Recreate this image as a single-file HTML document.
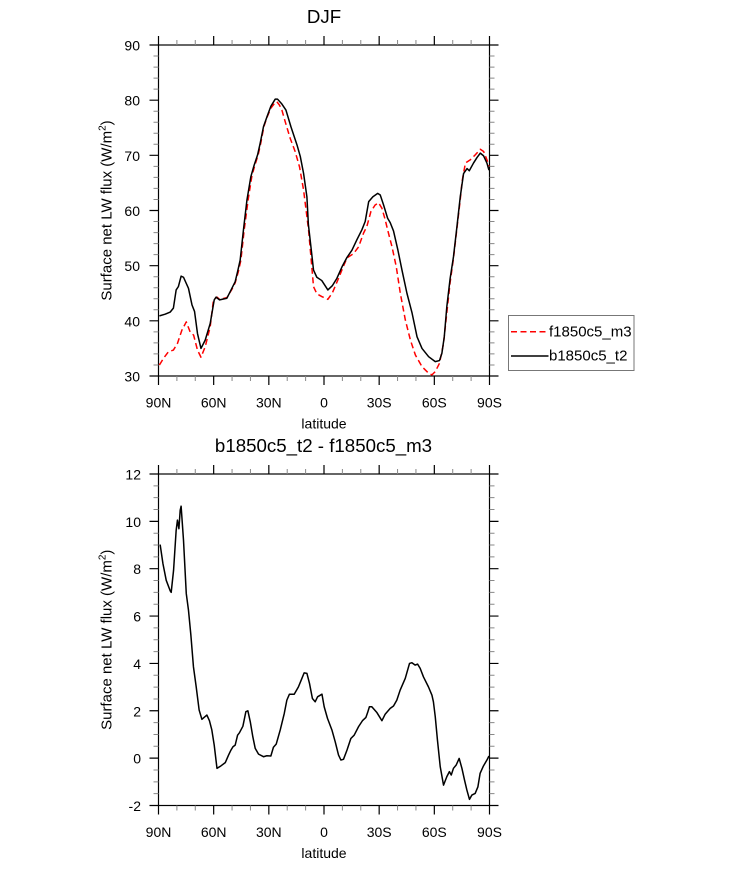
<!DOCTYPE html>
<html><head><meta charset="utf-8"><style>
html,body{margin:0;padding:0;background:#fff;}
svg{display:block;font-family:"Liberation Sans",Arial,sans-serif;}
</style></head><body>
<svg width="733" height="869" viewBox="0 0 733 869" xmlns="http://www.w3.org/2000/svg">
<rect width="733" height="869" fill="#fff"/>

<!-- ================= TOP PLOT ================= -->
<text x="324" y="23" font-size="18.7" text-anchor="middle">DJF</text>
<rect x="158.5" y="45" width="331" height="331" fill="none" stroke="#000" stroke-width="1.2"/>
<!-- major ticks -->
<path fill="none" stroke="#000" stroke-width="1.2" d="
M158.5 45v-9M213.67 45v-9M268.83 45v-9M324 45v-9M379.17 45v-9M434.33 45v-9M489.5 45v-9
M158.5 376v9M213.67 376v9M268.83 376v9M324 376v9M379.17 376v9M434.33 376v9M489.5 376v9
M158.5 376h-9M158.5 320.83h-9M158.5 265.67h-9M158.5 210.5h-9M158.5 155.33h-9M158.5 100.17h-9M158.5 45h-9
M489.5 376h9M489.5 320.83h9M489.5 265.67h9M489.5 210.5h9M489.5 155.33h9M489.5 100.17h9M489.5 45h9"/>
<!-- minor ticks -->
<path fill="none" stroke="#888" stroke-width="1" d="
M176.89 45v-5M195.28 45v-5M232.06 45v-5M250.44 45v-5M287.22 45v-5M305.61 45v-5M342.39 45v-5M360.78 45v-5M397.56 45v-5M415.94 45v-5M452.72 45v-5M471.11 45v-5
M176.89 376v5M195.28 376v5M232.06 376v5M250.44 376v5M287.22 376v5M305.61 376v5M342.39 376v5M360.78 376v5M397.56 376v5M415.94 376v5M452.72 376v5M471.11 376v5
M158.5 364.97h-5M158.5 353.93h-5M158.5 342.9h-5M158.5 331.87h-5M158.5 309.8h-5M158.5 298.77h-5M158.5 287.73h-5M158.5 276.7h-5M158.5 254.63h-5M158.5 243.6h-5M158.5 232.57h-5M158.5 221.53h-5M158.5 199.47h-5M158.5 188.43h-5M158.5 177.4h-5M158.5 166.37h-5M158.5 144.3h-5M158.5 133.27h-5M158.5 122.23h-5M158.5 111.2h-5M158.5 89.13h-5M158.5 78.1h-5M158.5 67.07h-5M158.5 56.03h-5
M489.5 364.97h5M489.5 353.93h5M489.5 342.9h5M489.5 331.87h5M489.5 309.8h5M489.5 298.77h5M489.5 287.73h5M489.5 276.7h5M489.5 254.63h5M489.5 243.6h5M489.5 232.57h5M489.5 221.53h5M489.5 199.47h5M489.5 188.43h5M489.5 177.4h5M489.5 166.37h5M489.5 144.3h5M489.5 133.27h5M489.5 122.23h5M489.5 111.2h5M489.5 89.13h5M489.5 78.1h5M489.5 67.07h5M489.5 56.03h5"/>
<!-- y labels -->
<g font-size="14" text-anchor="end">
<text x="140" y="381.5">30</text>
<text x="140" y="326.3">40</text>
<text x="140" y="271.2">50</text>
<text x="140" y="216">60</text>
<text x="140" y="160.8">70</text>
<text x="140" y="105.7">80</text>
<text x="140" y="50.5">90</text>
</g>
<!-- x labels -->
<g font-size="14" text-anchor="middle">
<text x="158.5" y="407.5">90N</text>
<text x="213.67" y="407.5">60N</text>
<text x="268.83" y="407.5">30N</text>
<text x="324" y="407.5">0</text>
<text x="379.17" y="407.5">30S</text>
<text x="434.33" y="407.5">60S</text>
<text x="489.5" y="407.5">90S</text>
</g>
<text x="324" y="428.5" font-size="14" text-anchor="middle">latitude</text>
<text transform="translate(111.5 210.5) rotate(-90)" font-size="15" text-anchor="middle">Surface net LW flux (W/m<tspan font-size="10" dy="-6">2</tspan><tspan dy="6">)</tspan></text>

<!-- curves top -->
<g transform="matrix(1.83889 0 0 -5.51667 158.5 541.5)">
<polyline fill="none" stroke="#ff0000" stroke-width="1.5" vector-effect="non-scaling-stroke" stroke-dasharray="6 3.5" stroke-linejoin="round" points="
0.5,32.0 2.7,33.2 5.4,34.4 8.1,34.7 10.3,35.9 12.7,38.3 15.1,39.8 17.2,38.0 19.1,37.4 21.2,34.7 23.1,33.4 25.4,35.3 28.1,38.9 29.9,43.8 31.8,44.3 33.2,43.9 37.2,44.2 39.9,45.7 41.7,46.9 43.4,48.9 44.8,51.0 46.6,56.5 48.9,62.3 50.8,66.3 52.4,68.2 54.2,70.1 55.6,72.2 57.3,75.2 59,76.9 61.2,78.6 63.5,79.6 64.4,79.7 65.8,79.1 67.1,78.2 68.9,76.1 71.6,73.1 74.3,70.7 76.7,67.9 78.9,63.7 80.7,58.9 81.6,56.5 82.9,51.6 84.3,46.2 86.1,44.9 88.8,44.4 92.1,43.9 94.6,45.1 97.9,47.7 100.7,50.0 102.5,51.4 106.1,52.2 108.8,53.4 111.5,55.9 113.3,57.1 115.5,59.8 117.8,61.0 119.7,61.4 121.5,60.4 123.3,58.3 124.6,56.5 127,53.4 129.3,49.8 131.5,45.0 134.2,40.2 137,36.5 139.7,33.8 143.3,31.7 146.9,30.5 148.7,30.2 150.5,30.8 152.8,32.3 155,35.9 156.8,41.5 158.6,47.0 160.4,51.3 162.3,56.8 164.1,62.0 165.1,65.3 166.9,68.6 169.6,69.2 172.3,70.1 175,71.1 176.8,70.7 178.6,69.2 179.7,68.0"/>
<polyline fill="none" stroke="#000" stroke-width="1.5" vector-effect="non-scaling-stroke" stroke-linejoin="round" points="
0.5,40.9 3.6,41.2 6.4,41.6 8.1,42.3 9.6,45.6 10.8,46.2 12.3,48.1 13.6,47.9 16.3,45.9 18.2,42.9 19.6,41.7 21.2,37.7 23.1,35.0 25.4,36.5 28.1,39.5 30.3,43.8 31.3,44.3 33.2,43.8 37.2,44.1 39.9,45.9 41.7,47.1 43,48.9 44.4,51.0 46.2,56.5 48.1,61.9 50.2,66.1 52,68.2 53.9,70.1 55.3,72.2 57.1,75.2 58.9,76.9 61.1,78.9 63.5,80.2 64.7,80.2 67.1,79.3 69.3,78.2 72,75.2 75.3,71.9 77.1,69.8 78.9,66.7 80.7,62.5 81.5,57.5 82.9,53.4 84.3,49.2 86.1,47.9 88.8,47.3 92.1,45.6 94.6,46.4 97,47.7 99.8,49.8 102.5,51.5 105.2,52.8 107.9,54.7 110.6,56.5 112.4,58.0 114.3,61.6 116.6,62.5 119.2,63.1 120.6,62.8 122.4,61.0 124.6,58.6 126,57.8 127.8,56.3 130.2,52.8 132.4,49.2 135.1,45.0 137.9,41.4 140.6,37.1 143.3,35.0 146.9,33.5 150.5,32.6 152.8,32.8 154.1,34.1 155.4,37.1 156.8,42.6 158.6,47.7 160.4,51.6 162.3,57.1 164.1,62.5 165.9,66.7 167.8,67.6 169,67.2 171.3,68.6 173.2,69.6 175,70.4 176.8,69.9 178.6,68.6 179.7,67.3"/>
</g>

<!-- legend -->
<rect x="508.5" y="315.5" width="125.5" height="55" fill="#fff" stroke="#777" stroke-width="1"/>
<line x1="511" y1="331.7" x2="548.5" y2="331.7" stroke="#ff0000" stroke-width="1.5" stroke-dasharray="6 3.5"/>
<line x1="511" y1="356" x2="548.5" y2="356" stroke="#000" stroke-width="1.5"/>
<text x="549" y="336.5" font-size="15">f1850c5_m3</text>
<text x="549" y="360.7" font-size="15">b1850c5_t2</text>

<!-- ================= BOTTOM PLOT ================= -->
<text x="323.5" y="452" font-size="18.7" text-anchor="middle">b1850c5_t2 - f1850c5_m3</text>
<rect x="158.5" y="474" width="331" height="331.5" fill="none" stroke="#000" stroke-width="1.2"/>
<path fill="none" stroke="#000" stroke-width="1.2" d="
M158.5 474v-9M213.67 474v-9M268.83 474v-9M324 474v-9M379.17 474v-9M434.33 474v-9M489.5 474v-9
M158.5 805.5v9M213.67 805.5v9M268.83 805.5v9M324 805.5v9M379.17 805.5v9M434.33 805.5v9M489.5 805.5v9
M158.5 805.5h-9M158.5 758.14h-9M158.5 710.78h-9M158.5 663.42h-9M158.5 616.07h-9M158.5 568.71h-9M158.5 521.35h-9M158.5 474h-9
M489.5 805.5h9M489.5 758.14h9M489.5 710.78h9M489.5 663.42h9M489.5 616.07h9M489.5 568.71h9M489.5 521.35h9M489.5 474h9"/>
<path fill="none" stroke="#888" stroke-width="1" d="
M176.89 474v-5M195.28 474v-5M232.06 474v-5M250.44 474v-5M287.22 474v-5M305.61 474v-5M342.39 474v-5M360.78 474v-5M397.56 474v-5M415.94 474v-5M452.72 474v-5M471.11 474v-5
M176.89 805.5v5M195.28 805.5v5M232.06 805.5v5M250.44 805.5v5M287.22 805.5v5M305.61 805.5v5M342.39 805.5v5M360.78 805.5v5M397.56 805.5v5M415.94 805.5v5M452.72 805.5v5M471.11 805.5v5
M158.5 793.66h-5M158.5 781.82h-5M158.5 769.98h-5M158.5 746.3h-5M158.5 734.46h-5M158.5 722.62h-5M158.5 698.94h-5M158.5 687.1h-5M158.5 675.26h-5M158.5 651.58h-5M158.5 639.74h-5M158.5 627.9h-5M158.5 604.23h-5M158.5 592.39h-5M158.5 580.55h-5M158.5 556.87h-5M158.5 545.03h-5M158.5 533.19h-5M158.5 509.51h-5M158.5 497.67h-5M158.5 485.83h-5
M489.5 793.66h5M489.5 781.82h5M489.5 769.98h5M489.5 746.3h5M489.5 734.46h5M489.5 722.62h5M489.5 698.94h5M489.5 687.1h5M489.5 675.26h5M489.5 651.58h5M489.5 639.74h5M489.5 627.9h5M489.5 604.23h5M489.5 592.39h5M489.5 580.55h5M489.5 556.87h5M489.5 545.03h5M489.5 533.19h5M489.5 509.51h5M489.5 497.67h5M489.5 485.83h5"/>
<g font-size="14" text-anchor="end">
<text x="141" y="811">-2</text>
<text x="141" y="763.6">0</text>
<text x="141" y="716.3">2</text>
<text x="141" y="668.9">4</text>
<text x="141" y="621.6">6</text>
<text x="141" y="574.2">8</text>
<text x="141" y="526.9">10</text>
<text x="141" y="479.5">12</text>
</g>
<g font-size="14" text-anchor="middle">
<text x="158.5" y="837">90N</text>
<text x="213.67" y="837">60N</text>
<text x="268.83" y="837">30N</text>
<text x="324" y="837">0</text>
<text x="379.17" y="837">30S</text>
<text x="434.33" y="837">60S</text>
<text x="489.5" y="837">90S</text>
</g>
<text x="324" y="858" font-size="14" text-anchor="middle">latitude</text>
<text transform="translate(111.5 639.75) rotate(-90)" font-size="15" text-anchor="middle">Surface net LW flux (W/m<tspan font-size="10" dy="-6">2</tspan><tspan dy="6">)</tspan></text>

<g transform="matrix(1.83889 0 0 -23.679 158.5 758.14)">
<polyline fill="none" stroke="#000" stroke-width="1.5" vector-effect="non-scaling-stroke" stroke-linejoin="round" points="
0.9,9.02 2.4,8.22 4.2,7.51 6.4,7.06 6.9,7.0 8.2,7.94 9.6,9.62 10.3,10.05 11.1,9.69 11.8,10.47 12.3,10.64 13.6,9.2 15.1,6.95 16.3,6.25 17.6,5.2 19,3.86 20.5,3.01 22.1,2.03 23.6,1.64 26.3,1.82 27.7,1.58 29,1.19 30.3,0.55 31.8,-0.43 33.9,-0.33 36.3,-0.19 38.1,0.13 39.4,0.34 40.5,0.48 41.7,0.55 43,0.97 44,1.07 45.9,1.35 47.5,1.96 48.6,2.0 49.9,1.54 51.3,0.9 52.6,0.41 54.4,0.17 57.1,0.06 58.9,0.1 61.1,0.09 62.5,0.46 64,0.59 66.2,1.19 68.4,1.89 69.8,2.45 71.2,2.7 73.8,2.7 76.1,3.01 78,3.37 79.2,3.6 80.7,3.58 82.1,3.16 83.7,2.52 85.2,2.38 86.5,2.59 88.9,2.7 90.1,2.17 91.9,1.68 94.3,1.19 96.1,0.69 97.9,0.13 99.2,-0.08 100.6,-0.05 102.5,0.34 104.6,0.83 106.4,0.97 108.8,1.33 110.9,1.58 112.8,1.72 113.7,1.92 114.7,2.17 116,2.17 118.8,1.92 121.5,1.58 123.3,1.86 126,2.1 127.8,2.2 129.6,2.45 131.4,2.87 134.2,3.37 136.5,4.0 137.8,4.03 139.6,3.93 140.9,3.97 142.3,3.79 144.1,3.43 146.8,3.01 148.7,2.66 149.5,2.38 150.5,1.75 151.7,0.76 153.2,-0.36 155,-1.14 156.8,-0.78 158.2,-0.57 159.2,-0.71 160.4,-0.43 161.9,-0.29 163.5,-0.01 165,-0.43 166.4,-0.92 167.7,-1.35 169.1,-1.74 170.4,-1.56 172.2,-1.49 173.7,-1.21 174.9,-0.64 176.7,-0.33 178.6,-0.08 179.7,0.09"/>
</g>
</svg>
</body></html>
